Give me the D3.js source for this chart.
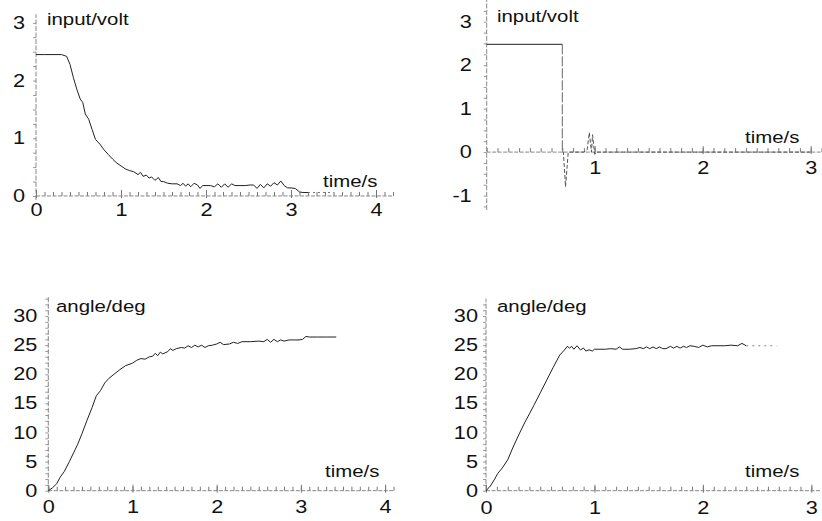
<!DOCTYPE html>
<html>
<head>
<meta charset="utf-8">
<script src="https://cdn.jsdelivr.net/npm/d3@7.9.0/dist/d3.min.js"></script>
<style>
  body { margin: 0; background: #fff; }
  svg { display: block; font-family: "Liberation Sans", Arial, sans-serif; }
</style>
</head>
<body>
<svg id="chart" width="822" height="521"></svg>
<script>
// ---- data: [time in s, value] ----
const inputA = [[0,2.45],[0.1,2.45],[0.2,2.45],[0.3,2.45],[0.36,2.42],[0.40,2.28],[0.44,2.05],[0.48,1.85],
  [0.52,1.68],[0.55,1.62],[0.58,1.42],[0.62,1.33],[0.66,1.15],[0.70,0.98],[0.75,0.90],[0.80,0.80],
  [0.85,0.72],[0.90,0.64],[0.95,0.57],[1.00,0.52],[1.05,0.47],[1.10,0.44],[1.15,0.42],[1.20,0.37],
  [1.23,0.41],[1.26,0.34],[1.30,0.36],[1.33,0.31],[1.36,0.33],[1.40,0.27],[1.44,0.32],[1.47,0.25],
  [1.50,0.25],[1.55,0.22],[1.60,0.21],[1.66,0.21],[1.70,0.18],[1.73,0.22],[1.76,0.17],[1.79,0.21],
  [1.82,0.16],[1.86,0.22],[1.90,0.19],[1.93,0.13],[1.96,0.18],[2.00,0.18],[2.05,0.18],[2.10,0.16],
  [2.14,0.21],[2.18,0.15],[2.22,0.21],[2.26,0.15],[2.30,0.21],[2.34,0.18],[2.40,0.18],[2.46,0.18],
  [2.52,0.19],[2.56,0.19],[2.60,0.13],[2.64,0.20],[2.68,0.14],[2.72,0.21],[2.76,0.17],[2.80,0.23],
  [2.84,0.19],[2.88,0.26],[2.92,0.18],[2.96,0.14],[3.00,0.14],[3.05,0.13],[3.10,0.07],[3.14,0.06],[3.20,0.06]];
const inputATail = [[3.20,0.06],[3.50,0.06]];

const inputB = [[0,2.48],[0.70,2.48]];
const inputBDrop = [[0.70,2.48],[0.70,0]];
const inputBRest = [[0.70,0],[0.71,0],[0.73,-0.8],[0.755,0],[0.80,0],[0.90,0],[0.93,0.05],[0.95,0.45],
  [0.97,0],[0.98,0.4],[1.0,-0.05],[1.02,0],[3.0,0]];

const angleA = [[0,0],[0.05,0.5],[0.1,1.2],[0.14,2.3],[0.19,3.3],[0.25,5.0],[0.30,6.5],[0.35,8.0],
  [0.40,9.8],[0.46,12.1],[0.52,14.3],[0.57,16.3],[0.62,17.2],[0.67,18.5],[0.72,19.3],[0.78,20.0],
  [0.85,20.8],[0.92,21.5],[1.0,21.9],[1.05,22.4],[1.10,22.7],[1.15,22.6],[1.20,23.0],[1.24,23.1],
  [1.27,23.6],[1.30,23.2],[1.33,23.8],[1.36,23.5],[1.42,23.9],[1.45,24.4],[1.48,24.1],[1.52,24.4],
  [1.58,24.6],[1.62,24.5],[1.66,24.9],[1.70,24.6],[1.74,25.0],[1.78,24.7],[1.82,25.0],[1.86,24.6],
  [1.90,24.9],[1.95,25.0],[2.00,25.2],[2.04,25.5],[2.08,25.1],[2.15,25.2],[2.20,25.5],[2.25,25.3],
  [2.30,25.6],[2.40,25.6],[2.50,25.7],[2.56,25.6],[2.60,26.0],[2.64,25.5],[2.68,26.0],[2.72,25.6],
  [2.76,25.9],[2.80,25.7],[2.86,25.9],[2.92,25.9],[2.98,25.9],[3.02,26.0],[3.06,26.5],[3.10,26.4],
  [3.20,26.4],[3.30,26.4],[3.42,26.4]];

const angleB = [[0,0],[0.04,0.8],[0.08,2.0],[0.11,3.0],[0.15,3.9],[0.2,5.3],[0.25,7.5],[0.31,9.9],
  [0.36,11.8],[0.40,13.2],[0.44,14.6],[0.50,16.8],[0.56,19.0],[0.62,21.2],[0.68,23.3],[0.72,24.1],
  [0.75,24.8],[0.77,24.5],[0.79,24.8],[0.81,24.3],[0.84,24.9],[0.87,24.2],[0.90,24.5],[0.92,24.0],
  [0.95,24.2],[0.98,24.0],[1.0,24.3],[1.05,24.3],[1.10,24.3],[1.15,24.4],[1.20,24.3],[1.23,24.7],
  [1.26,24.3],[1.32,24.3],[1.38,24.4],[1.42,24.6],[1.45,24.4],[1.48,24.7],[1.51,24.4],[1.54,24.7],
  [1.57,24.4],[1.60,24.7],[1.63,24.4],[1.66,24.4],[1.70,24.8],[1.73,24.5],[1.76,24.8],[1.79,24.5],
  [1.82,24.8],[1.85,24.6],[1.88,24.9],[1.92,24.8],[1.96,24.6],[2.00,25.0],[2.04,24.7],[2.08,24.9],
  [2.14,24.9],[2.20,24.9],[2.26,25.0],[2.32,24.9],[2.36,25.3],[2.40,24.9]];
const angleBTail = [[2.40,24.9],[2.68,24.9]];

// tick labels
const xTicksA = [0, 1, 2, 3, 4];
const xTicksB = [1, 2, 3];
const xTicksD = [0, 1, 2, 3];
const yTicksVolt = [0, 1, 2, 3];
const yTicksVoltB = [-1, 0, 1, 2, 3];
const yTicksDeg = [0, 5, 10, 15, 20, 25, 30];

const svg = d3.select('#chart');
const SX = 1.24; // the scanned lettering is wide
const plain = d => String(d); // keeps the ascii hyphen in "-1"

function panel(cfg) {
  const x = d3.scaleLinear().domain(cfg.xDomain).range(cfg.xRange);
  const y = d3.scaleLinear().domain(cfg.yDomain).range(cfg.yRange);
  const g = svg.append('g');

  // minor ticks
  g.append('g')
    .attr('transform', `translate(0,${y(0)})`)
    .call(d3.axisBottom(x).tickValues(d3.range(0, cfg.xDomain[1] + 1e-9, 0.1)).tickSize(-4).tickFormat(''))
    .call(a => a.select('.domain').remove())
    .selectAll('line').attr('stroke', '#777');
  g.append('g')
    .attr('transform', `translate(${x(0)},0)`)
    .call(d3.axisLeft(y).tickValues(d3.range(Math.ceil(cfg.yDomain[0] / cfg.yMinor) * cfg.yMinor, cfg.yDomain[1], cfg.yMinor)).tickSize(3).tickFormat(''))
    .call(a => a.select('.domain').remove())
    .selectAll('line').attr('stroke', '#999');

  // axis lines
  g.append('line')
    .attr('x1', x(cfg.xDomain[0])).attr('x2', x(cfg.xDomain[1]))
    .attr('y1', y(0)).attr('y2', y(0))
    .attr('stroke', '#888').attr('stroke-dasharray', '4,1.5');
  g.append('line')
    .attr('x1', x(0)).attr('x2', x(0))
    .attr('y1', y(cfg.yDomain[0])).attr('y2', y(cfg.yDomain[1]))
    .attr('stroke', '#888').attr('stroke-dasharray', '5,1.5');

  // major tick labels
  const xa = g.append('g')
    .attr('transform', `translate(0,${y(0)})`)
    .call(d3.axisBottom(x).tickValues(cfg.xTicks).tickSize(6).tickPadding(3).tickFormat(plain));
  xa.select('.domain').remove();
  xa.selectAll('line').attr('stroke', '#777').attr('y1', -6).attr('y2', 2);
  xa.selectAll('text').attr('font-size', 17.5).attr('fill', '#111')
    .attr('y', cfg.xLabelDy).attr('dy', '0.35em').attr('transform', `scale(${SX},1)`);

  const ya = g.append('g')
    .attr('transform', `translate(${x(0)},0)`)
    .call(d3.axisLeft(y).tickValues(cfg.yTicks).tickSize(0).tickPadding(cfg.yGap / SX).tickFormat(plain));
  ya.select('.domain').remove();
  ya.selectAll('text').attr('font-size', 17.5).attr('fill', '#111').attr('transform', `scale(${SX},1)`);

  // axis names
  const label = (txt, px, py) => g.append('text')
    .attr('transform', `translate(${px},${py}) scale(${SX - 0.04},1)`)
    .attr('font-size', 17).attr('fill', '#111').text(txt);
  label(cfg.yName, cfg.yNamePos[0], cfg.yNamePos[1]);
  label('time/s', cfg.xNamePos[0], cfg.xNamePos[1]);

  const line = d3.line().x(d => x(d[0])).y(d => y(d[1]));
  return { g, line };
}

function trace(p, data, opts = {}) {
  p.g.append('path')
    .datum(data)
    .attr('d', p.line)
    .attr('fill', 'none')
    .attr('stroke', opts.color || '#222')
    .attr('stroke-width', opts.width || 1)
    .attr('stroke-dasharray', opts.dash || null)
    .attr('stroke-linejoin', 'round');
}

// top left
const p1 = panel({
  xDomain: [0, 4.2], xRange: [36, 393], yDomain: [-0.07, 3.15], yRange: [200, 14.2],
  yMinor: 0.25, xTicks: xTicksA, yTicks: yTicksVolt, xLabelDy: 14, yGap: 11,
  yName: 'input/volt', yNamePos: [47, 25], xNamePos: [323, 187]
});
trace(p1, inputA);
trace(p1, inputATail, { color: '#777', dash: '2,3' });

// top right
const p2 = panel({
  xDomain: [0, 3.1], xRange: [486.7, 821.5], yDomain: [-1.33, 3.5], yRange: [209.9, 0],
  yMinor: 0.25, xTicks: xTicksB, yTicks: yTicksVoltB, xLabelDy: 16, yGap: 15,
  yName: 'input/volt', yNamePos: [497, 22], xNamePos: [745, 143]
});
trace(p2, inputB);
trace(p2, inputBDrop, { color: '#666', dash: '10,2' });
trace(p2, inputBRest, { color: '#555', dash: '4,2' });

// bottom left
const p3 = panel({
  xDomain: [0, 4.1], xRange: [48.3, 393.5], yDomain: [0, 33.5], yRange: [490.7, 295.7],
  yMinor: 1, xTicks: xTicksA, yTicks: yTicksDeg, xLabelDy: 16, yGap: 11,
  yName: 'angle/deg', yNamePos: [56, 312], xNamePos: [325, 477]
});
trace(p3, angleA);

// bottom right
const p4 = panel({
  xDomain: [0, 3.08], xRange: [486, 820], yDomain: [0, 33], yRange: [490.7, 298.6],
  yMinor: 1, xTicks: xTicksD, yTicks: yTicksDeg, xLabelDy: 17, yGap: 8,
  yName: 'angle/deg', yNamePos: [497, 312], xNamePos: [745, 477]
});
trace(p4, angleB);
trace(p4, angleBTail, { color: '#888', dash: '2,4' });
</script>
</body>
</html>
